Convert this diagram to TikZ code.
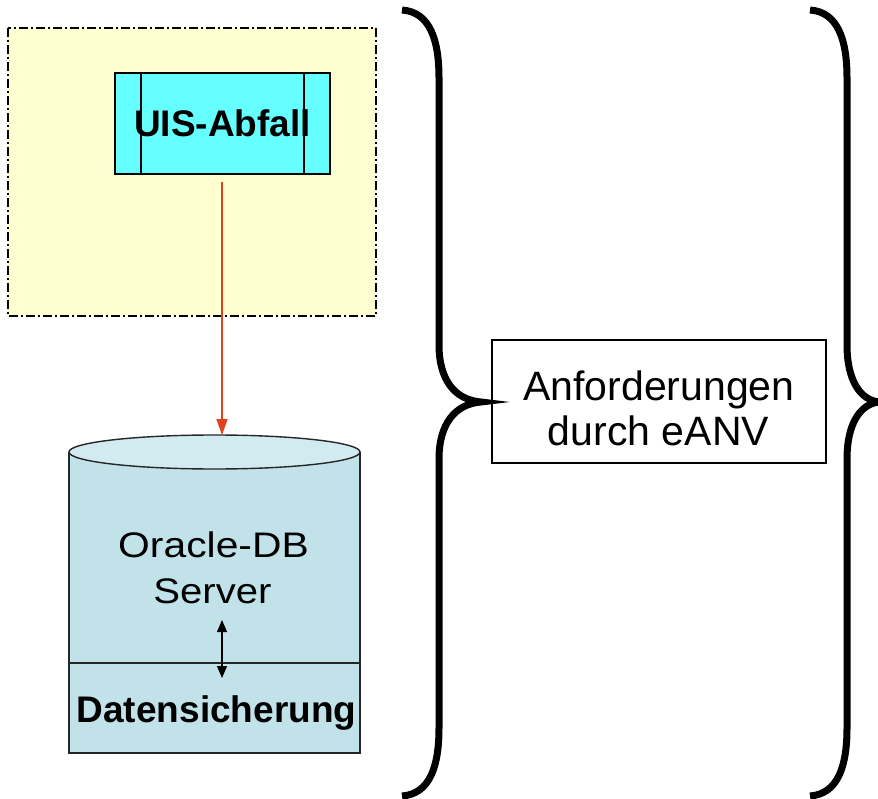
\documentclass[tikz,border=0pt]{standalone}
\usepackage{fontspec}
\usepackage{graphicx}
\setmainfont{Liberation Sans}
\usetikzlibrary{arrows.meta}
\definecolor{paleyellow}{HTML}{FFFFD2}
\definecolor{uiscyan}{HTML}{66FFFF}
\definecolor{dbblue}{HTML}{C0E2E8}
\definecolor{dbtop}{HTML}{D2EBF1}
\definecolor{arrowred}{HTML}{E0401C}
\tikzset{
  outerbox/.style={draw=black, fill=paleyellow, line width=1.5pt,
    dash pattern=on 9pt off 3pt on 2pt off 3pt},
  uisbox/.style={draw=black, fill=uiscyan, line width=1.6pt, minimum width=215pt,
    minimum height=101pt, inner sep=0pt, font=\bfseries\fontsize{37}{44}\selectfont},
  reqbox/.style={draw=black, line width=1.5pt, minimum width=334pt, minimum height=123pt, inner sep=0pt},
  reqtext/.style={anchor=base, inner sep=0pt, font=\fontsize{41}{45}\selectfont},
  dbtext/.style={anchor=base, inner sep=0pt, font=\fontsize{35.5}{46}\selectfont},
  dbbold/.style={anchor=base, inner sep=0pt, font=\bfseries\fontsize{37}{44}\selectfont},
  brace/.style={draw=black, line width=7pt},
  redarrow/.style={draw=arrowred, line width=1.6pt, -{Triangle[width=11pt,length=16pt]}},
  dblarrow/.style={draw=black, line width=1.3pt, {Triangle[width=10pt,length=12pt]}-{Triangle[width=10pt,length=12pt]}}
}
\begin{document}
\begin{tikzpicture}[x=1pt,y=-1pt]
\useasboundingbox (0,0) rectangle (878,799);
% outer dashed box
\draw[outerbox] (8,28) rectangle (376,316);
% UIS box
\node[uisbox] (uis) at (222.5,123.5) {UIS-Abfall};
\draw[line width=1.6pt] ([xshift=27pt]uis.north west) -- ([xshift=27pt]uis.south west);
\draw[line width=1.6pt] ([xshift=-27pt]uis.north east) -- ([xshift=-27pt]uis.south east);
% cylinder
\fill[dbblue] (69,452) rectangle (360,753);
\draw[line width=1.4pt, draw=black!85] (69,452) -- (69,753) -- (360,753) -- (360,452);
\draw[line width=1.4pt, draw=black!85] (69,663) -- (360,663);
\draw[line width=1.4pt, draw=black!85, fill=dbtop] (214.5,452) ellipse [x radius=145.5, y radius=17];
\coordinate (dbtopc) at (222,435);
\node[dbtext] (ora) at (213.5,557) {\scalebox{1.15}[1]{Oracle-DB}};
\node[dbtext] (srv) at (212.5,603) {\scalebox{1.13}[1]{Server}};
\node[dbbold] (dsich) at (216.5,722) {Datensicherung};
\coordinate (a1) at (222,620);
\coordinate (a2) at (222,678);
% arrows
\draw[redarrow] ([yshift=-7pt]uis.south -| dbtopc) -- (dbtopc);
\draw[dblarrow] (a1) -- (a2);
% requirement box
\node[reqbox] (req) at (659,401.5) {};
\node[reqtext] (req1) at (659,400) {Anforderungen\ };
\node[reqtext] (req2) at (658.5,445) {durch eANV};
% braces
\draw[brace] (402,10) .. controls (430,12) and (439,40) .. (439,78) -- (439,345)
  .. controls (439,380) and (455,400) .. (481,402)
  .. controls (455,404) and (439,424) .. (439,459) -- (439,728)
  .. controls (439,766) and (430,794) .. (402,796);
\draw[brace] (810,10) .. controls (838,12) and (847,40) .. (847,78) -- (847,345)
  .. controls (847,380) and (860,400) .. (879,402)
  .. controls (860,404) and (847,424) .. (847,459) -- (847,728)
  .. controls (847,766) and (838,794) .. (810,796);
\end{tikzpicture}
\end{document}
